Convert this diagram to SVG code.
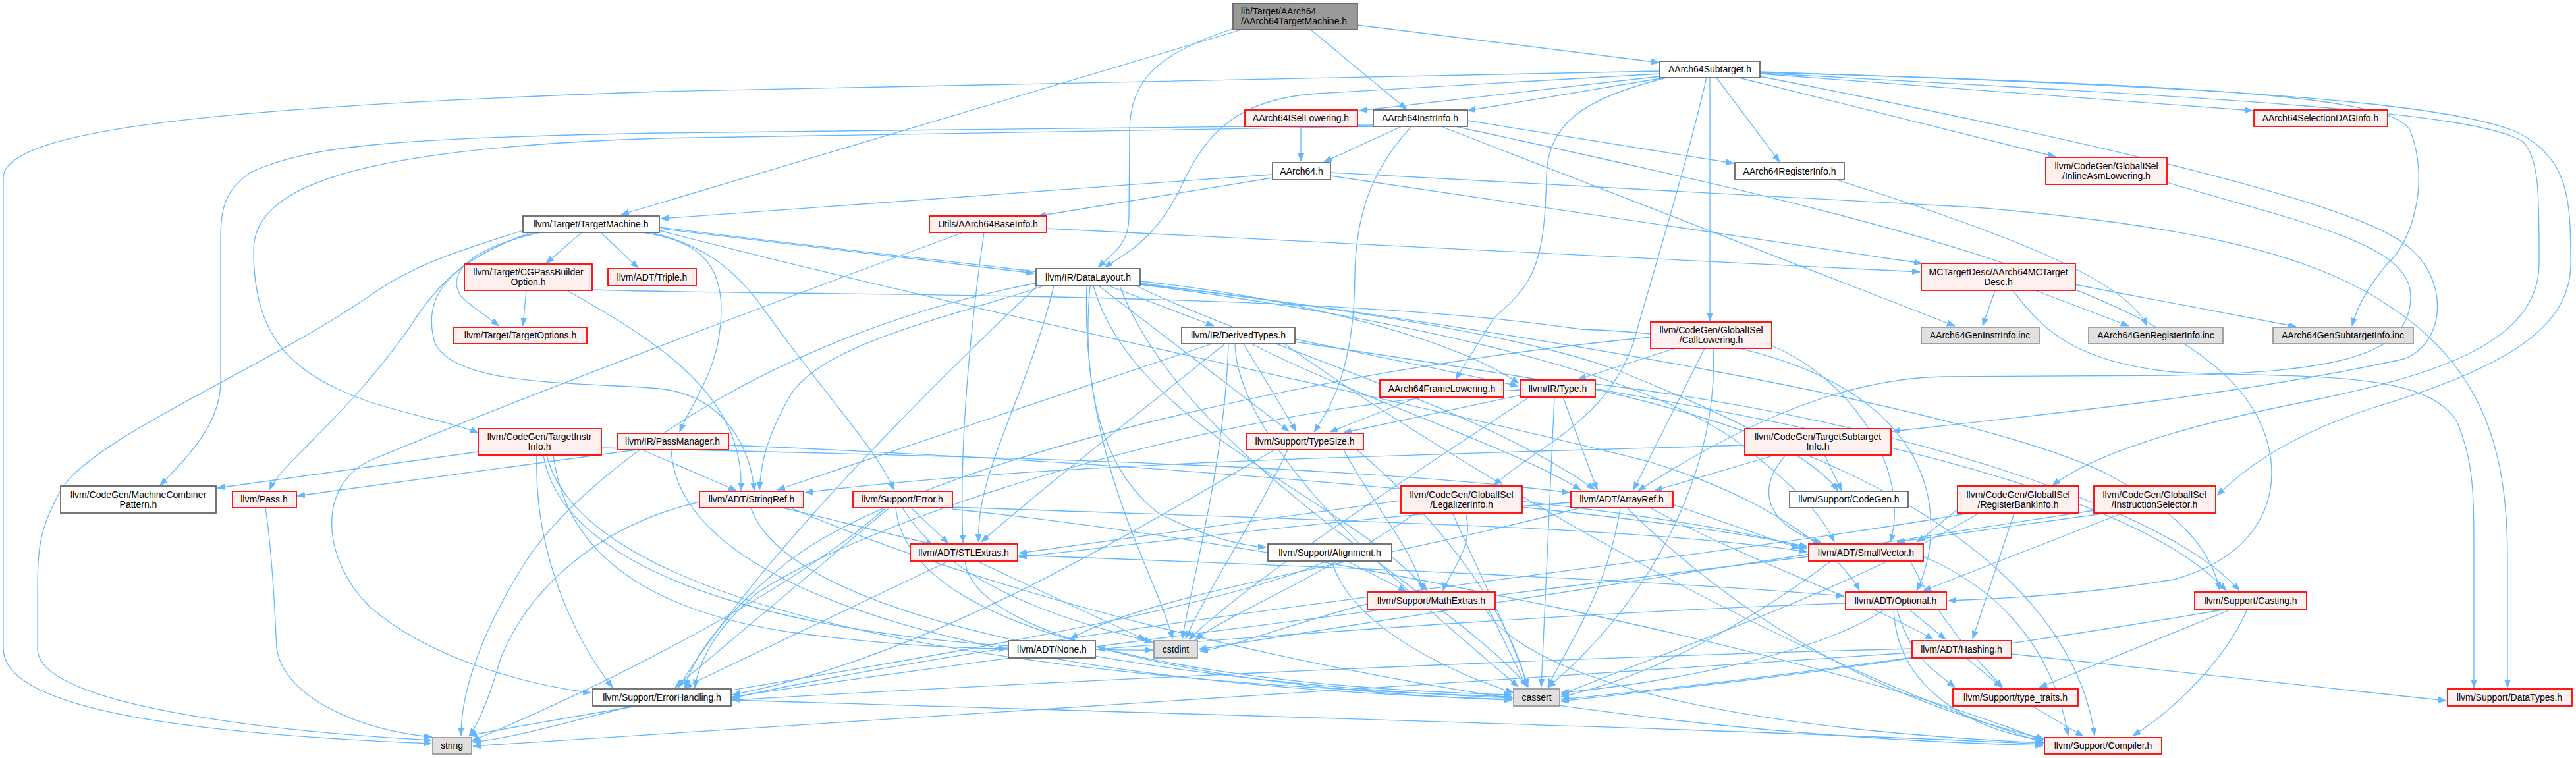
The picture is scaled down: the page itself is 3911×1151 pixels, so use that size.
<svg xmlns="http://www.w3.org/2000/svg" width="3911" height="1151" viewBox="0 0 3911 1151">
<style>
.e{fill:none;stroke:#63B8FF;stroke-width:1.3}
.r{fill:#FFF0F0;stroke:#FF0000;stroke-width:1.8}
.w{fill:#FFFFFF;stroke:#666666;stroke-width:1.8}
.g{fill:#E0E0E0;stroke:#999999;stroke-width:1.8}
.m{fill:#999999;stroke:#666666;stroke-width:1.8}
text{font-family:"Liberation Sans",Arial,sans-serif;font-size:14px;fill:#000;text-anchor:middle}
text.l{text-anchor:start}
</style>
<defs>
<marker id="a" markerUnits="userSpaceOnUse" markerWidth="12" markerHeight="10" refX="12" refY="4.5" orient="auto"><path d="M0,0 L12,4.5 L0,9 z" fill="#63B8FF" stroke="#63B8FF" stroke-width="0.8"/></marker>
</defs>
<rect x="0" y="0" width="3911" height="1151" fill="#FFFFFF"/>
<g id="edges" class="e" marker-end="url(#a)">
<path class="e" marker-end="url(#a)" d="M1885,45 L943,326"/>
<path class="e" marker-end="url(#a)" d="M1874,43 C1760,80 1715,120 1715,200 L1714,330 C1714,370 1690,385 1667,406"/>
<path class="e" marker-end="url(#a)" d="M1990,45 L2136,166"/>
<path class="e" marker-end="url(#a)" d="M2061,38 L2519,95"/>
<path class="e" marker-end="url(#a)" d="M2520,108 L1000,139 C400,160 5,190 5,270 L5,985 C5,1080 300,1115 655,1129"/>
<path class="e" marker-end="url(#a)" d="M2520,112 L2000,142 C1880,150 1830,200 1790,290 C1750,370 1700,390 1677,406"/>
<path class="e" marker-end="url(#a)" d="M2520,116 L2064,168"/>
<path class="e" marker-end="url(#a)" d="M2527,118 L2228,168"/>
<path class="e" marker-end="url(#a)" d="M2530,118 C2400,150 2350,190 2348,267 C2345,400 2330,430 2268,483 L2210,576"/>
<path class="e" marker-end="url(#a)" d="M2591,118 C2560,250 2520,380 2480,520 C2440,640 2330,680 2268,737"/>
<path class="e" marker-end="url(#a)" d="M2596,118 L2596,487"/>
<path class="e" marker-end="url(#a)" d="M2606,118 L2702,246"/>
<path class="e" marker-end="url(#a)" d="M2640,118 L3121,238"/>
<path class="e" marker-end="url(#a)" d="M2672,112 L3420,168"/>
<path class="e" marker-end="url(#a)" d="M2672,116 C3100,200 3560,300 3650,370 C3720,420 3715,520 3650,545 C3400,600 3100,630 2873,655"/>
<path class="e" marker-end="url(#a)" d="M2672,109 C3300,130 3700,150 3820,200 C3900,240 3903,300 3903,400 C3903,500 3800,560 3600,620 C3450,670 3390,730 3366,752"/>
<path class="e" marker-end="url(#a)" d="M2672,111 C3400,150 3760,170 3830,215 C3856,240 3855,300 3855,400 C3855,520 3700,570 3500,610 C3300,650 3180,690 3116,737"/>
<path class="e" marker-end="url(#a)" d="M2672,110 C3400,130 3640,150 3660,200 C3690,280 3660,370 3625,400 C3600,430 3580,460 3571,495"/>
<path class="e" marker-end="url(#a)" d="M2128,192 L2010,246"/>
<path class="e" marker-end="url(#a)" d="M2143,192 C2080,260 2058,330 2057,420 C2056,560 2020,620 1995,656"/>
<path class="e" marker-end="url(#a)" d="M2188,192 L2968,495"/>
<path class="e" marker-end="url(#a)" d="M2228,183 L2632,248"/>
<path class="e" marker-end="url(#a)" d="M2210,192 C2700,300 3300,420 3420,620 C3480,720 3450,840 3300,880 C3150,905 3020,910 2958,912"/>
<path class="e" marker-end="url(#a)" d="M2085,190 L1000,202 C600,210 470,220 380,262 C340,290 335,320 335,360 L335,580 C335,640 290,690 243,737"/>
<path class="e" marker-end="url(#a)" d="M2088,192 L1000,210 C550,225 385,280 385,380 C385,520 450,570 560,610 C640,635 700,645 726,658"/>
<path class="e" marker-end="url(#a)" d="M1975,192 L1975,245"/>
<path class="e" marker-end="url(#a)" d="M1932,265 L1003,332"/>
<path class="e" marker-end="url(#a)" d="M1932,270 L1576,328"/>
<path class="e" marker-end="url(#a)" d="M2020,267 L2918,400"/>
<path class="e" marker-end="url(#a)" d="M2020,262 L3000,315 C3300,340 3500,380 3620,460 C3780,560 3807,700 3807,850 L3807,1044"/>
<path class="e" marker-end="url(#a)" d="M2788,273 C3000,340 3230,420 3259,495"/>
<path class="e" marker-end="url(#a)" d="M883,353 L829,400"/>
<path class="e" marker-end="url(#a)" d="M912,353 L969,407"/>
<path class="e" marker-end="url(#a)" d="M794,350 C700,380 630,400 560,450 C400,560 150,660 95,740 C60,800 57,830 57,900 L57,985 C57,1070 400,1110 655,1124"/>
<path class="e" marker-end="url(#a)" d="M812,353 C720,380 670,420 620,500 C520,640 430,700 409,744"/>
<path class="e" marker-end="url(#a)" d="M820,353 C700,380 680,420 700,450 C720,470 740,480 757,495"/>
<path class="e" marker-end="url(#a)" d="M975,353 C1060,365 1095,400 1095,470 C1095,560 1050,610 1032,656"/>
<path class="e" marker-end="url(#a)" d="M805,353 C680,400 640,450 660,520 C690,590 900,580 1000,590 C1100,600 1140,680 1145,745"/>
<path class="e" marker-end="url(#a)" d="M985,352 C1060,370 1110,400 1160,470 C1260,610 1330,680 1357,744"/>
<path class="e" marker-end="url(#a)" d="M1001,347 L1570,415"/>
<path class="e" marker-end="url(#a)" d="M1001,345 C1600,420 2200,470 2450,560 C2650,640 2760,700 2790,745"/>
<path class="e" marker-end="url(#a)" d="M1001,350 C1500,480 2100,600 2500,700 C2700,760 2800,850 2823,897"/>
<path class="e" marker-end="url(#a)" d="M1589,347 C2200,380 2700,400 2915,413"/>
<path class="e" marker-end="url(#a)" d="M1494,353 C1480,450 1455,650 1462,824"/>
<path class="e" marker-end="url(#a)" d="M1462,353 C1200,450 800,600 560,700 C480,740 490,850 560,920 C650,1000 800,1040 897,1052"/>
<path class="e" marker-end="url(#a)" d="M3029,441 L3010,495"/>
<path class="e" marker-end="url(#a)" d="M3090,441 L3232,495"/>
<path class="e" marker-end="url(#a)" d="M3150,432 L3486,496"/>
<path class="e" marker-end="url(#a)" d="M3056,441 C3100,500 3150,550 3300,565 C3500,575 3680,560 3730,640 C3756,700 3756,750 3756,850 L3756,1044"/>
<path class="e" marker-end="url(#a)" d="M799,441 L794,495"/>
<path class="e" marker-end="url(#a)" d="M861,441 C1000,520 1130,600 1125,745"/>
<path class="e" marker-end="url(#a)" d="M899,440 C1200,450 2000,440 2400,500 C3000,520 2950,820 2910,897"/>
<path class="e" marker-end="url(#a)" d="M1585,434 C1450,480 1250,520 1200,600 C1160,670 1155,710 1153,744"/>
<path class="e" marker-end="url(#a)" d="M1683,434 L1843,495"/>
<path class="e" marker-end="url(#a)" d="M1731,427 C1950,450 2200,510 2306,582"/>
<path class="e" marker-end="url(#a)" d="M1668,434 L1957,655"/>
<path class="e" marker-end="url(#a)" d="M1655,434 C1640,600 1680,720 1760,780 C1830,815 1880,828 1922,831"/>
<path class="e" marker-end="url(#a)" d="M1600,434 C1560,600 1480,720 1486,823"/>
<path class="e" marker-end="url(#a)" d="M1731,432 C2100,480 2500,560 2650,680 C2740,750 2770,790 2785,823"/>
<path class="e" marker-end="url(#a)" d="M1725,434 C1900,520 2250,620 2421,743"/>
<path class="e" marker-end="url(#a)" d="M1731,430 C2300,500 3000,620 3200,720 C3330,790 3360,850 3370,896"/>
<path class="e" marker-end="url(#a)" d="M1575,434 C1400,600 1150,850 1030,1044"/>
<path class="e" marker-end="url(#a)" d="M1660,434 C1720,650 2050,760 2167,897"/>
<path class="e" marker-end="url(#a)" d="M1700,434 C1800,700 2200,900 2320,1043"/>
<path class="e" marker-end="url(#a)" d="M1650,434 C1640,700 1760,880 1780,970"/>
<path class="e" marker-end="url(#a)" d="M1573,430 C1200,500 900,700 800,850 C730,960 700,1050 700,1117"/>
<path class="e" marker-end="url(#a)" d="M1840,522 L1180,744"/>
<path class="e" marker-end="url(#a)" d="M1860,522 C1700,650 1560,760 1490,823"/>
<path class="e" marker-end="url(#a)" d="M1966,515 L2305,586"/>
<path class="e" marker-end="url(#a)" d="M1888,522 L1968,655"/>
<path class="e" marker-end="url(#a)" d="M1966,519 C2500,600 3200,700 3380,897"/>
<path class="e" marker-end="url(#a)" d="M1950,522 C2200,700 2700,1000 3104,1128"/>
<path class="e" marker-end="url(#a)" d="M1900,522 C2050,600 2300,680 2400,744"/>
<path class="e" marker-end="url(#a)" d="M1875,522 C1880,700 2200,950 2305,1043"/>
<path class="e" marker-end="url(#a)" d="M1865,522 C1860,700 1810,880 1795,970"/>
<path class="e" marker-end="url(#a)" d="M2543,529 L2396,576"/>
<path class="e" marker-end="url(#a)" d="M2588,529 L2480,744"/>
<path class="e" marker-end="url(#a)" d="M2690,525 C2820,580 2900,720 2870,823"/>
<path class="e" marker-end="url(#a)" d="M2506,512 C2000,560 1400,700 1200,850 C1100,930 1050,1000 1040,1044"/>
<path class="e" marker-end="url(#a)" d="M2601,529 C2610,700 2520,900 2350,1044"/>
<path class="e" marker-end="url(#a)" d="M2153,603 L2019,656"/>
<path class="e" marker-end="url(#a)" d="M2309,600 L2040,657"/>
<path class="e" marker-end="url(#a)" d="M2373,603 L2425,744"/>
<path class="e" marker-end="url(#a)" d="M2308,592 C1800,620 1300,800 1150,900 C1080,960 1060,1010 1055,1044"/>
<path class="e" marker-end="url(#a)" d="M2322,603 C2100,750 1900,880 1805,971"/>
<path class="e" marker-end="url(#a)" d="M2360,603 C2350,800 2345,950 2340,1043"/>
<path class="e" marker-end="url(#a)" d="M2422,583 C2900,640 3300,780 3400,897"/>
<path class="e" marker-end="url(#a)" d="M2422,591 C2900,700 3150,900 3180,1117"/>
<path class="e" marker-end="url(#a)" d="M726,686 L330,741"/>
<path class="e" marker-end="url(#a)" d="M913,680 C1300,690 2000,700 2383,748"/>
<path class="e" marker-end="url(#a)" d="M840,691 C860,850 1000,930 1200,960 C1350,980 1450,984 1529,985"/>
<path class="e" marker-end="url(#a)" d="M815,691 C810,850 880,980 930,1044"/>
<path class="e" marker-end="url(#a)" d="M830,691 C880,900 1400,1030 2296,1058"/>
<path class="e" marker-end="url(#a)" d="M825,691 C860,900 1300,990 1750,987"/>
<path class="e" marker-end="url(#a)" d="M966,683 L451,753"/>
<path class="e" marker-end="url(#a)" d="M975,683 L1118,745"/>
<path class="e" marker-end="url(#a)" d="M1106,676 C1700,700 2500,760 2744,833"/>
<path class="e" marker-end="url(#a)" d="M1019,683 C1030,900 1500,1040 2296,1062"/>
<path class="e" marker-end="url(#a)" d="M2040,683 C2080,760 2150,840 2160,897"/>
<path class="e" marker-end="url(#a)" d="M2060,683 C2200,800 2300,950 2318,1043"/>
<path class="e" marker-end="url(#a)" d="M1955,683 C1900,800 1830,900 1800,970"/>
<path class="e" marker-end="url(#a)" d="M1935,683 C1700,820 1400,1000 1112,1055"/>
<path class="e" marker-end="url(#a)" d="M2695,691 L2512,745"/>
<path class="e" marker-end="url(#a)" d="M2770,691 L2796,745"/>
<path class="e" marker-end="url(#a)" d="M2711,691 C2660,750 2690,800 2765,824"/>
<path class="e" marker-end="url(#a)" d="M2649,676 C2200,690 1600,700 1222,748"/>
<path class="e" marker-end="url(#a)" d="M403,771 C415,850 418,950 420,984 C430,1060 550,1110 656,1119"/>
<path class="e" marker-end="url(#a)" d="M1188,771 L1418,827"/>
<path class="e" marker-end="url(#a)" d="M1062,762 C900,800 800,900 760,1000 C740,1070 725,1100 712,1118"/>
<path class="e" marker-end="url(#a)" d="M1200,771 C1500,900 2200,1110 3102,1132"/>
<path class="e" marker-end="url(#a)" d="M1140,771 C1200,950 1800,1040 2296,1060"/>
<path class="e" marker-end="url(#a)" d="M1383,771 L1440,825"/>
<path class="e" marker-end="url(#a)" d="M1350,771 L1025,1044"/>
<path class="e" marker-end="url(#a)" d="M1345,771 C1200,900 900,1050 716,1125"/>
<path class="e" marker-end="url(#a)" d="M1446,770 C2000,790 2500,800 2744,838"/>
<path class="e" marker-end="url(#a)" d="M1446,773 C2000,830 2800,1000 3102,1125"/>
<path class="e" marker-end="url(#a)" d="M1370,771 C1450,900 1650,950 1750,975"/>
<path class="e" marker-end="url(#a)" d="M1360,771 C1380,980 1900,1045 2296,1055"/>
<path class="e" marker-end="url(#a)" d="M2311,770 C2500,790 2650,810 2744,830"/>
<path class="e" marker-end="url(#a)" d="M2127,760 C1900,790 1700,820 1547,840"/>
<path class="e" marker-end="url(#a)" d="M2205,779 C2260,900 2300,980 2320,1043"/>
<path class="e" marker-end="url(#a)" d="M2150,779 C2000,880 1850,940 1815,972"/>
<path class="e" marker-end="url(#a)" d="M2225,779 C2240,830 2200,870 2191,897"/>
<path class="e" marker-end="url(#a)" d="M2540,766 L2732,833"/>
<path class="e" marker-end="url(#a)" d="M2505,771 C2650,850 2850,920 2935,971"/>
<path class="e" marker-end="url(#a)" d="M2385,763 C2000,790 1700,830 1547,846"/>
<path class="e" marker-end="url(#a)" d="M2400,771 C2100,850 1750,900 1625,970"/>
<path class="e" marker-end="url(#a)" d="M2470,771 C2600,900 2800,1050 3104,1122"/>
<path class="e" marker-end="url(#a)" d="M2460,771 C2440,900 2380,980 2350,1043"/>
<path class="e" marker-end="url(#a)" d="M3058,779 L2995,970"/>
<path class="e" marker-end="url(#a)" d="M2972,774 C2950,790 2930,810 2910,823"/>
<path class="e" marker-end="url(#a)" d="M2990,779 C2600,850 1600,950 1112,1060"/>
<path class="e" marker-end="url(#a)" d="M3005,779 C2800,900 2500,1000 2370,1055"/>
<path class="e" marker-end="url(#a)" d="M3223,779 L2920,897"/>
<path class="e" marker-end="url(#a)" d="M3200,779 L2880,823"/>
<path class="e" marker-end="url(#a)" d="M3179,775 C2800,830 2000,960 1820,986"/>
<path class="e" marker-end="url(#a)" d="M1440,852 L1038,1044"/>
<path class="e" marker-end="url(#a)" d="M1465,852 C1480,980 1900,1050 2296,1063"/>
<path class="e" marker-end="url(#a)" d="M1483,852 L1740,972"/>
<path class="e" marker-end="url(#a)" d="M1545,843 C2000,860 2500,880 2800,905"/>
<path class="e" marker-end="url(#a)" d="M2045,852 L2135,898"/>
<path class="e" marker-end="url(#a)" d="M2022,852 C2050,950 2200,1020 2298,1052"/>
<path class="e" marker-end="url(#a)" d="M2013,852 C1800,950 1000,1060 712,1117"/>
<path class="e" marker-end="url(#a)" d="M2746,845 C2300,900 1500,1000 1112,1058"/>
<path class="e" marker-end="url(#a)" d="M2780,852 C2650,950 2500,1030 2370,1058"/>
<path class="e" marker-end="url(#a)" d="M2900,852 C2950,950 3000,1000 3040,1043"/>
<path class="e" marker-end="url(#a)" d="M2920,845 C3050,900 3120,1000 3140,1117"/>
<path class="e" marker-end="url(#a)" d="M2076,917 C1950,950 1880,980 1822,989"/>
<path class="e" marker-end="url(#a)" d="M2255,925 C2300,1000 2500,1100 3102,1128"/>
<path class="e" marker-end="url(#a)" d="M2260,925 L2318,1043"/>
<path class="e" marker-end="url(#a)" d="M2802,916 C2400,930 2000,960 1666,986"/>
<path class="e" marker-end="url(#a)" d="M2862,925 C2750,1000 2500,1040 2370,1052"/>
<path class="e" marker-end="url(#a)" d="M2898,925 L2954,971"/>
<path class="e" marker-end="url(#a)" d="M2880,925 C2900,1000 2940,1020 2968,1044"/>
<path class="e" marker-end="url(#a)" d="M2875,925 C2880,1050 3000,1110 3102,1124"/>
<path class="e" marker-end="url(#a)" d="M3380,925 C3000,990 2600,1040 2370,1062"/>
<path class="e" marker-end="url(#a)" d="M3388,925 L3096,1044"/>
<path class="e" marker-end="url(#a)" d="M3412,925 C3380,1000 3300,1080 3238,1117"/>
<path class="e" marker-end="url(#a)" d="M2903,985 C2300,1000 1500,1040 1112,1063"/>
<path class="e" marker-end="url(#a)" d="M2903,991 C2000,1050 1000,1120 718,1133"/>
<path class="e" marker-end="url(#a)" d="M2910,998 C2700,1030 2500,1050 2370,1065"/>
<path class="e" marker-end="url(#a)" d="M2985,999 L3040,1044"/>
<path class="e" marker-end="url(#a)" d="M3054,993 L3714,1064"/>
<path class="e" marker-end="url(#a)" d="M1110,1063 C2000,1090 2700,1110 3102,1130"/>
<path class="e" marker-end="url(#a)" d="M960,1072 C850,1100 780,1120 718,1127"/>
<path class="e" marker-end="url(#a)" d="M3085,1072 L3163,1118"/>
<path class="e" marker-end="url(#a)" d="M3290,277 C3500,340 3660,370 3660,450 C3660,540 3550,565 3300,570 L2950,572 C2800,575 2650,640 2487,745"/>
</g>
<g id="n-main"><rect class="m" x="1872" y="5" width="189" height="40"/><text class="l" x="1884" y="22">lib/Target/AArch64</text><text class="l" x="1884" y="37">/AArch64TargetMachine.h</text></g>
<g id="n-subtarget"><rect class="w" x="2520" y="93" width="152" height="25"/><text x="2596" y="110">AArch64Subtarget.h</text></g>
<g id="n-isellowering"><rect class="r" x="1890" y="167" width="171" height="25"/><text x="1975" y="184">AArch64ISelLowering.h</text></g>
<g id="n-instrinfo"><rect class="w" x="2085" y="167" width="143" height="25"/><text x="2156" y="184">AArch64InstrInfo.h</text></g>
<g id="n-seldaginfo"><rect class="r" x="3422" y="167" width="203" height="25"/><text x="3523" y="184">AArch64SelectionDAGInfo.h</text></g>
<g id="n-aarch64"><rect class="w" x="1932" y="247" width="88" height="26"/><text x="1976" y="265">AArch64.h</text></g>
<g id="n-reginfo"><rect class="w" x="2634" y="247" width="166" height="26"/><text x="2717" y="265">AArch64RegisterInfo.h</text></g>
<g id="n-inlineasm"><rect class="r" x="3106" y="239" width="184" height="41"/><text x="3198" y="257">llvm/CodeGen/GlobalISel</text><text x="3198" y="272">/InlineAsmLowering.h</text></g>
<g id="n-targetmachine"><rect class="w" x="794" y="328" width="207" height="25"/><text x="897" y="345">llvm/Target/TargetMachine.h</text></g>
<g id="n-baseinfo"><rect class="r" x="1411" y="328" width="178" height="25"/><text x="1500" y="345">Utils/AArch64BaseInfo.h</text></g>
<g id="n-mctargetdesc"><rect class="r" x="2917" y="400" width="234" height="41"/><text x="3034" y="418">MCTargetDesc/AArch64MCTarget</text><text x="3034" y="433">Desc.h</text></g>
<g id="n-cgpassbuilder"><rect class="r" x="705" y="401" width="194" height="40"/><text x="802" y="418">llvm/Target/CGPassBuilder</text><text x="802" y="433">Option.h</text></g>
<g id="n-triple"><rect class="r" x="923" y="408" width="134" height="26"/><text x="990" y="426">llvm/ADT/Triple.h</text></g>
<g id="n-datalayout"><rect class="w" x="1573" y="408" width="158" height="26"/><text x="1652" y="426">llvm/IR/DataLayout.h</text></g>
<g id="n-geninstr"><rect class="g" x="2917" y="497" width="179" height="25"/><text x="3006" y="514">AArch64GenInstrInfo.inc</text></g>
<g id="n-genreg"><rect class="g" x="3171" y="497" width="204" height="25"/><text x="3273" y="514">AArch64GenRegisterInfo.inc</text></g>
<g id="n-gensub"><rect class="g" x="3451" y="497" width="213" height="25"/><text x="3557" y="514">AArch64GenSubtargetInfo.inc</text></g>
<g id="n-targetoptions"><rect class="r" x="689" y="497" width="202" height="25"/><text x="790" y="514">llvm/Target/TargetOptions.h</text></g>
<g id="n-derivedtypes"><rect class="w" x="1794" y="497" width="172" height="25"/><text x="1880" y="514">llvm/IR/DerivedTypes.h</text></g>
<g id="n-calllowering"><rect class="r" x="2506" y="489" width="184" height="40"/><text x="2598" y="506">llvm/CodeGen/GlobalISel</text><text x="2598" y="521">/CallLowering.h</text></g>
<g id="n-framelowering"><rect class="r" x="2095" y="577" width="188" height="26"/><text x="2189" y="595">AArch64FrameLowering.h</text></g>
<g id="n-type"><rect class="r" x="2308" y="577" width="114" height="26"/><text x="2365" y="595">llvm/IR/Type.h</text></g>
<g id="n-targetinstrinfo"><rect class="r" x="726" y="651" width="187" height="40"/><text x="819" y="668">llvm/CodeGen/TargetInstr</text><text x="819" y="683">Info.h</text></g>
<g id="n-passmanager"><rect class="r" x="937" y="658" width="169" height="25"/><text x="1021" y="675">llvm/IR/PassManager.h</text></g>
<g id="n-typesize"><rect class="r" x="1892" y="658" width="178" height="25"/><text x="1981" y="675">llvm/Support/TypeSize.h</text></g>
<g id="n-targetsubtarget"><rect class="r" x="2649" y="651" width="222" height="40"/><text x="2760" y="668">llvm/CodeGen/TargetSubtarget</text><text x="2760" y="683">Info.h</text></g>
<g id="n-machinecombiner"><rect class="w" x="92" y="738" width="236" height="41"/><text x="210" y="756">llvm/CodeGen/MachineCombiner</text><text x="210" y="771">Pattern.h</text></g>
<g id="n-pass"><rect class="r" x="353" y="746" width="97" height="25"/><text x="401" y="763">llvm/Pass.h</text></g>
<g id="n-stringref"><rect class="r" x="1062" y="746" width="158" height="25"/><text x="1141" y="763">llvm/ADT/StringRef.h</text></g>
<g id="n-error"><rect class="r" x="1295" y="746" width="151" height="25"/><text x="1370" y="763">llvm/Support/Error.h</text></g>
<g id="n-legalizerinfo"><rect class="r" x="2127" y="738" width="184" height="41"/><text x="2219" y="756">llvm/CodeGen/GlobalISel</text><text x="2219" y="771">/LegalizerInfo.h</text></g>
<g id="n-arrayref"><rect class="r" x="2385" y="746" width="155" height="25"/><text x="2462" y="763">llvm/ADT/ArrayRef.h</text></g>
<g id="n-codegen"><rect class="w" x="2717" y="746" width="180" height="25"/><text x="2807" y="763">llvm/Support/CodeGen.h</text></g>
<g id="n-regbankinfo"><rect class="r" x="2972" y="738" width="184" height="41"/><text x="3064" y="756">llvm/CodeGen/GlobalISel</text><text x="3064" y="771">/RegisterBankInfo.h</text></g>
<g id="n-instselector"><rect class="r" x="3179" y="738" width="185" height="41"/><text x="3271" y="756">llvm/CodeGen/GlobalISel</text><text x="3271" y="771">/InstructionSelector.h</text></g>
<g id="n-stlextras"><rect class="r" x="1382" y="826" width="163" height="26"/><text x="1463" y="844">llvm/ADT/STLExtras.h</text></g>
<g id="n-alignment"><rect class="w" x="1925" y="826" width="188" height="26"/><text x="2019" y="844">llvm/Support/Alignment.h</text></g>
<g id="n-smallvector"><rect class="r" x="2746" y="826" width="174" height="26"/><text x="2833" y="844">llvm/ADT/SmallVector.h</text></g>
<g id="n-mathextras"><rect class="r" x="2076" y="899" width="194" height="26"/><text x="2173" y="917">llvm/Support/MathExtras.h</text></g>
<g id="n-optional"><rect class="r" x="2802" y="899" width="153" height="26"/><text x="2878" y="917">llvm/ADT/Optional.h</text></g>
<g id="n-casting"><rect class="r" x="3332" y="899" width="170" height="26"/><text x="3417" y="917">llvm/Support/Casting.h</text></g>
<g id="n-none"><rect class="w" x="1531" y="973" width="132" height="26"/><text x="1597" y="991">llvm/ADT/None.h</text></g>
<g id="n-cstdint"><rect class="g" x="1752" y="973" width="66" height="26"/><text x="1785" y="991">cstdint</text></g>
<g id="n-hashing"><rect class="r" x="2903" y="973" width="151" height="26"/><text x="2978" y="991">llvm/ADT/Hashing.h</text></g>
<g id="n-errorhandling"><rect class="w" x="900" y="1046" width="210" height="26"/><text x="1005" y="1064">llvm/Support/ErrorHandling.h</text></g>
<g id="n-cassert"><rect class="g" x="2298" y="1046" width="70" height="26"/><text x="2333" y="1064">cassert</text></g>
<g id="n-typetraits"><rect class="r" x="2965" y="1046" width="190" height="26"/><text x="3060" y="1064">llvm/Support/type_traits.h</text></g>
<g id="n-datatypes"><rect class="r" x="3716" y="1046" width="189" height="26"/><text x="3810" y="1064">llvm/Support/DataTypes.h</text></g>
<g id="n-string"><rect class="g" x="657" y="1120" width="59" height="25"/><text x="686" y="1137">string</text></g>
<g id="n-compiler"><rect class="r" x="3104" y="1120" width="178" height="25"/><text x="3193" y="1137">llvm/Support/Compiler.h</text></g>
</svg>
